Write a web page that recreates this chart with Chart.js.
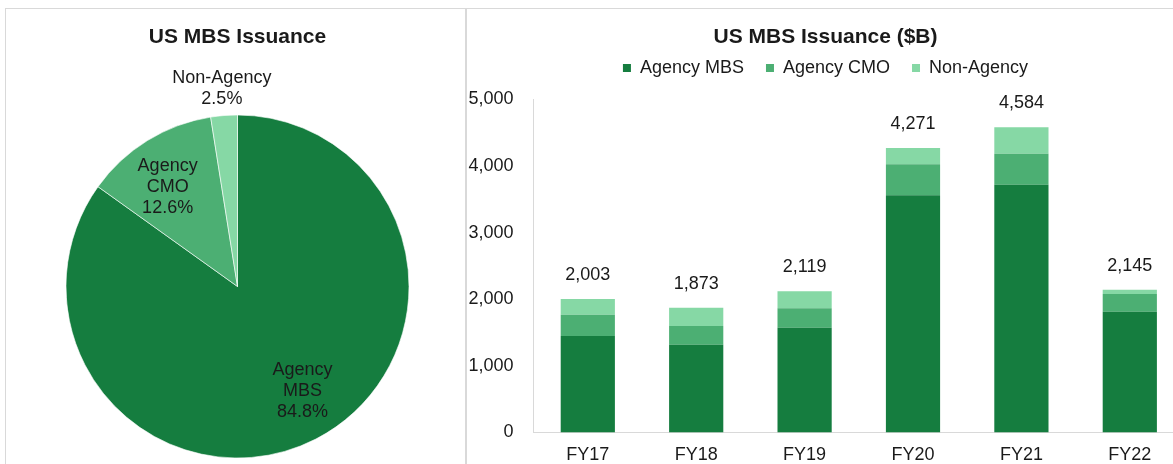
<!DOCTYPE html>
<html>
<head>
<meta charset="utf-8">
<script src="https://cdn.jsdelivr.net/npm/chart.js@4.4.0/dist/chart.umd.min.js"></script>
<style>
  html, body { margin: 0; padding: 0; background: #fff; overflow: hidden; }
  body { width: 1173px; height: 464px; position: relative; }
  .frame { position: absolute; left: 5px; top: 8px; width: 1300px; height: 500px; border-top: 1px solid #d9d9d9; border-left: 1px solid #d9d9d9; }
  .divider { position: absolute; left: 465px; top: 8px; width: 2px; height: 500px; background: #d9d9d9; }
  #pieChart { position: absolute; left: 6px; top: 9px; }
  #barChart { position: absolute; left: 467px; top: 9px; }
</style>
</head>
<body>
<div class="frame"></div>
<div class="divider"></div>
<canvas id="pieChart" width="459" height="470"></canvas>
<canvas id="barChart" width="717" height="460"></canvas>
<script>
// issuance by year, $B
const years = ['FY17', 'FY18', 'FY19', 'FY20', 'FY21', 'FY22'];
const agencyMbs = [1449, 1318, 1574, 3562, 3721, 1814];
const agencyCmo = [320, 281, 291, 465, 465, 266];
const nonAgency = [234, 274, 254, 244, 398, 65];
const totals = [2003, 1873, 2119, 4271, 4584, 2145];
const yTicks = [0, 1000, 2000, 3000, 4000, 5000];

// share of issuance, %
const shareLabels = ['Agency MBS', 'Agency CMO', 'Non-Agency'];
const shareValues = [84.8, 12.6, 2.5];

const colors = ['#157d3f', '#4caf73', '#86d8a5'];
// label placement: fraction of radius, and angle nudge in degrees
const labelRadius = [0.72, 0.71, 1.16];
const labelTurn = [-4.6, -3.3, 0];
const FONT = '"Liberation Sans", Arial, sans-serif';
const INK = '#1a1a1a';

Chart.defaults.font.family = FONT;
Chart.defaults.font.size = 18;
Chart.defaults.color = INK;
Chart.defaults.animation = false;

const sliceLabels = {
    id: 'sliceLabels',
    afterDatasetsDraw(chart) {
        const ctx = chart.ctx;
        const meta = chart.getDatasetMeta(0);
        ctx.save();
        ctx.font = '18px ' + FONT;
        ctx.fillStyle = INK;
        ctx.textAlign = 'center';
        ctx.textBaseline = 'middle';
        meta.data.forEach((arc, i) => {
            const p = arc.getProps(['x', 'y', 'startAngle', 'endAngle', 'outerRadius'], true);
            const mid = (p.startAngle + p.endAngle) / 2 + labelTurn[i] * Math.PI / 180;
            const r = p.outerRadius * labelRadius[i];
            const cx = p.x + Math.cos(mid) * r;
            const cy = p.y + Math.sin(mid) * r;
            const lines = shareLabels[i].split(' ').concat(shareValues[i].toFixed(1) + '%');
            lines.forEach((t, k) => ctx.fillText(t, cx, cy + (k - (lines.length - 1) / 2) * 21));
        });
        ctx.restore();
    }
};

const totalLabels = {
    id: 'totalLabels',
    afterDatasetsDraw(chart) {
        const { ctx, scales: { x, y } } = chart;
        ctx.save();
        ctx.font = '18px ' + FONT;
        ctx.fillStyle = INK;
        ctx.textAlign = 'center';
        ctx.textBaseline = 'middle';
        totals.forEach((t, i) => {
            ctx.fillText(t.toLocaleString('en-US'), x.getPixelForValue(i), y.getPixelForValue(t) - 24);
        });
        ctx.restore();
    }
};

// extra room between legend and plot
const legendGap = {
    id: 'legendGap',
    beforeInit(chart) {
        const fit = chart.legend.fit;
        chart.legend.fit = function () {
            fit.call(this);
            this.height += 12.5;
        };
    }
};

new Chart(document.getElementById('pieChart'), {
    type: 'pie',
    data: {
        labels: shareLabels,
        datasets: [{
            data: shareValues,
            backgroundColor: colors,
            borderColor: 'rgba(255,255,255,0.6)',
            borderWidth: 1
        }]
    },
    options: {
        responsive: false,
        events: [],
        layout: { padding: { left: 4, right: 0, top: 0, bottom: 20.5 } },
        plugins: {
            legend: { display: false },
            tooltip: { enabled: false },
            title: {
                display: true,
                text: 'US MBS Issuance',
                font: { size: 21, weight: 'bold' },
                color: INK,
                padding: { top: 15.4, bottom: 64.9 }
            }
        }
    },
    plugins: [sliceLabels]
});

new Chart(document.getElementById('barChart'), {
    type: 'bar',
    data: {
        labels: years,
        datasets: [
            { label: 'Agency MBS', data: agencyMbs, backgroundColor: colors[0] },
            { label: 'Agency CMO', data: agencyCmo, backgroundColor: colors[1] },
            { label: 'Non-Agency', data: nonAgency, backgroundColor: colors[2] }
        ]
    },
    options: {
        responsive: false,
        events: [],
        layout: { padding: { left: 0, right: 0, top: 0, bottom: 2.5 } },
        datasets: { bar: { categoryPercentage: 0.5, barPercentage: 1, borderWidth: 0 } },
        scales: {
            x: {
                stacked: true,
                grid: { display: false, drawTicks: false },
                border: { display: true, color: '#d9d9d9', width: 1 },
                ticks: { padding: 12, font: { size: 18 }, color: INK },
                afterFit(s) { s.height = 34; }
            },
            y: {
                stacked: true,
                min: 0,
                max: 5000,
                grid: { display: false, drawTicks: false },
                border: { display: true, color: '#d9d9d9', width: 1 },
                afterBuildTicks(s) { s.ticks = yTicks.map(v => ({ value: v })); },
                ticks: {
                    padding: 20,
                    font: { size: 18 },
                    color: INK,
                    callback: v => v.toLocaleString('en-US')
                },
                afterFit(s) { s.width = 66.6; }
            }
        },
        plugins: {
            tooltip: { enabled: false },
            title: {
                display: true,
                text: 'US MBS Issuance ($B)',
                font: { size: 21, weight: 'bold' },
                color: INK,
                padding: { top: 15.4, bottom: -12.6 }
            },
            legend: {
                display: true,
                position: 'top',
                labels: { boxWidth: 8, boxHeight: 8, padding: 22, font: { size: 18 }, color: INK }
            }
        }
    },
    plugins: [totalLabels, legendGap]
});
</script>
</body>
</html>
